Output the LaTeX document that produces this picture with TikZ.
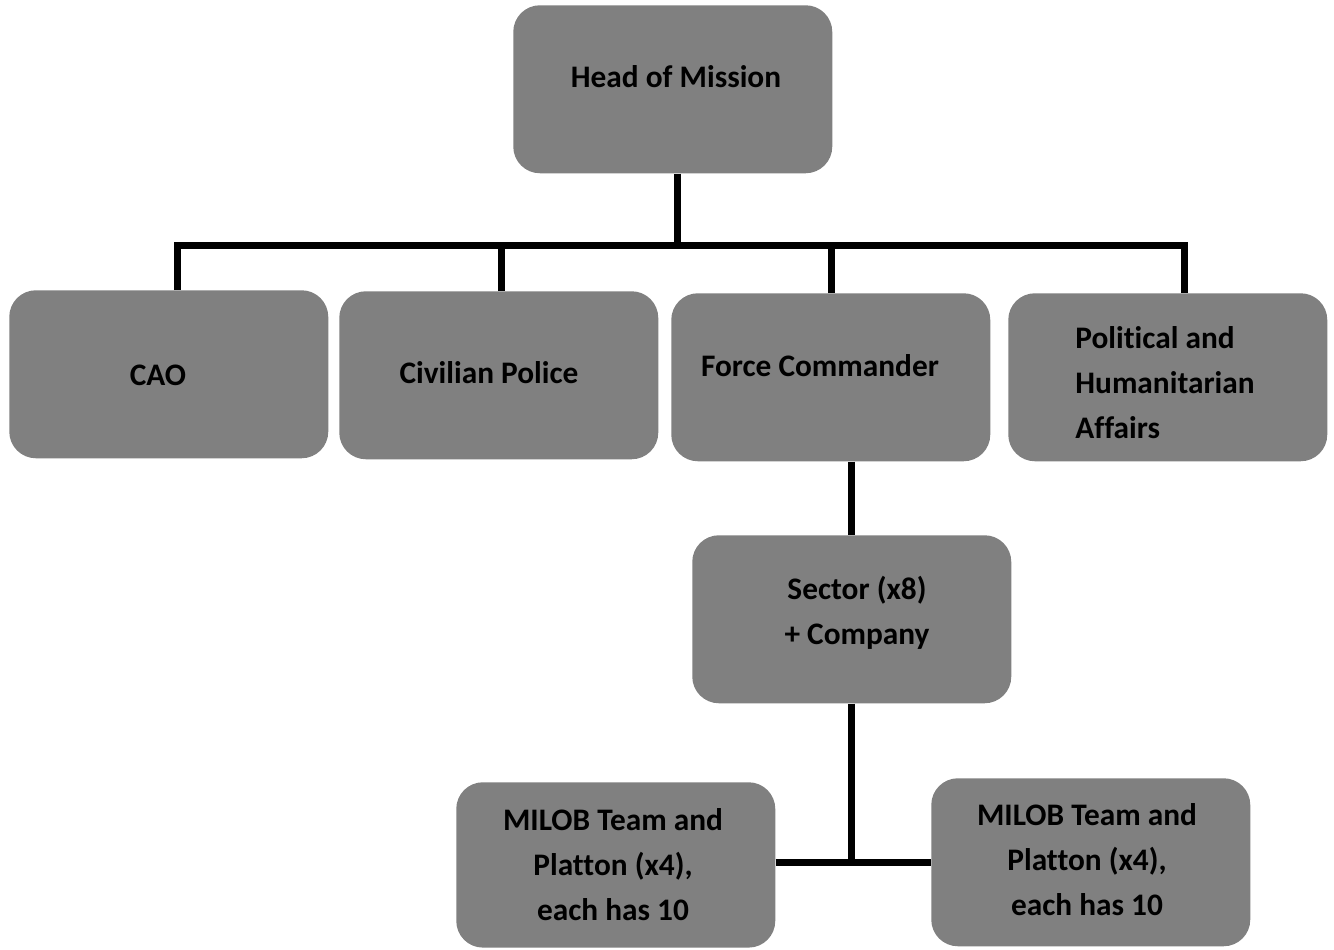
\documentclass[tikz,border=0pt]{standalone}
\usepackage{fontspec}
\setmainfont[RawFeature={-liga;-clig;-dlig;-calt}]{Carlito}
\begin{document}
\begin{tikzpicture}[x=0.75pt,y=-0.75pt,
  box/.style={draw=none,fill=boxgray,rounded corners=20pt,inner sep=0pt,anchor=north west,minimum width=239.25pt,minimum height=126pt},
  lbl/.style={font=\bfseries\fontsize{23.5}{33.75}\selectfont,text=black,inner sep=0pt},
  conn/.style={line width=5.25pt,black}]
\definecolor{boxgray}{HTML}{808080}
\useasboundingbox (0,0) rectangle (1334,949);
% boxes
\node[box] (hom) at (513,5) {};
\node[box] (cao) at (9,290) {};
\node[box] (civ) at (339,291) {};
\node[box] (fc) at (671,293) {};
\node[box] (pha) at (1008,293) {};
\node[box] (sec) at (692,535) {};
\node[box,minimum height=124pt] (mil) at (456,782) {};
\node[box,minimum height=126pt] (mir) at (931,778) {};
% labels
\node[lbl] (thom) at (676,77) {Head of Mission};
\node[lbl] (tcao) at (158,375) {CAO};
\node[lbl] (tciv) at (489,373) {Civilian Police};
\node[lbl] (tfc) at (820,366) {Force Commander};
\node[lbl,align=left] (tpha) at (1165,383) {Political and\\Humanitarian\\Affairs};
\node[lbl,align=center] (tsec) at (857,613) {Sector (x8)\\+ Company};
\node[lbl,align=center] (tmil) at (613,865) {MILOB Team and\\Platton (x4),\\each has 10};
\node[lbl,align=center] (tmir) at (1087,860) {MILOB Team and\\Platton (x4),\\each has 10};
% connectors
\coordinate (bus) at (677,245);
\coordinate (busL) at (177,245);
\coordinate (busR) at (1184,245);
\draw[conn] (hom.south -| bus) -- (bus);
\draw[conn] (cao.north -| busL) -- (busL) -- (busR) -- (pha.north -| busR);
\draw[conn] (civ.north -| 501,0) -- (501,245);
\draw[conn] (fc.north -| 831,0) -- (831,245);
\coordinate (fcd) at (851,461);
\draw[conn] (fc.south -| fcd) -- (sec.north -| fcd);
\coordinate (jn) at (851,862);
\draw[conn] (sec.south -| jn) -- (jn);
\draw[conn] (mil.east |- jn) -- (mir.west |- jn);
\end{tikzpicture}
\end{document}
